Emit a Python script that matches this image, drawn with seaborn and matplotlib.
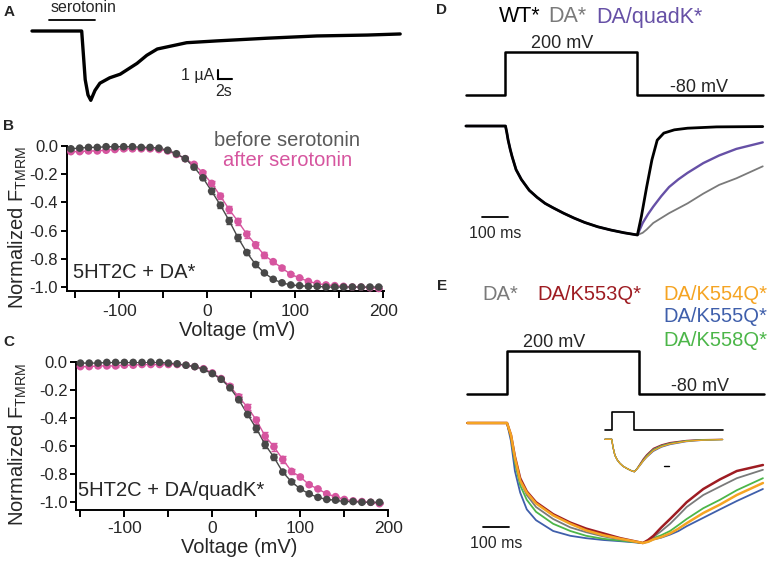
import matplotlib
matplotlib.use('Agg')
import matplotlib.pyplot as plt
import seaborn as sns

# ---------------- data ----------------
# A: serotonin-evoked current (time in s, current in uA)
a_time = [0, 7.1, 7.6, 8.0, 8.4, 9.0, 9.7, 11.1, 12.6, 13.6, 15.0, 16.4, 17.9,
          19.7, 22.1, 26.4, 33.6, 40.7, 47.9, 52.6]
a_current = [0, 0, -5.4, -7.1, -7.7, -6.6, -5.8, -5.2, -4.8, -4.3, -3.6, -2.7,
             -2.0, -1.7, -1.3, -1.1, -0.8, -0.55, -0.45, -0.33]
serotonin_on, serotonin_off = 2.4, 9.0

# B: 5HT2C + DA*  (normalized F_TMRM vs voltage)
b_volts = list(range(-155, 200, 10))
b_before = [-0.02, -0.015, -0.01, -0.01, -0.005, -0.005, -0.005, -0.005, -0.01, -0.01,
            -0.015, -0.03, -0.055, -0.09, -0.15, -0.225, -0.32, -0.42, -0.53, -0.65,
            -0.755, -0.84, -0.90, -0.945, -0.97, -0.985, -0.99, -0.995, -0.995, -1.0,
            -1.0, -1.0, -1.0, -1.0, -1.0, -1.0]
b_before_err = [0.005] * 12 + [0.008, 0.01, 0.012, 0.015, 0.02, 0.022, 0.025, 0.025,
                               0.02, 0.015, 0.01, 0.008] + [0.005] * 12
b_after = [-0.04, -0.04, -0.035, -0.035, -0.03, -0.025, -0.02, -0.02, -0.02, -0.02,
           -0.025, -0.035, -0.06, -0.09, -0.13, -0.19, -0.265, -0.355, -0.45, -0.535,
           -0.625, -0.70, -0.775, -0.82, -0.865, -0.91, -0.935, -0.96, -0.975, -0.985,
           -0.99, -0.995, -1.0, -1.0, -1.005, -1.01]
b_after_err = [0.005] * 12 + [0.008, 0.01, 0.012, 0.015, 0.018, 0.02, 0.022, 0.025,
                              0.025, 0.022, 0.02, 0.015] + [0.012, 0.01, 0.008] + [0.005] * 9

# C: 5HT2C + DA/quadK*
c_volts = list(range(-150, 200, 10))
c_before = [-0.01, -0.01, -0.01, -0.005, -0.005, -0.005, -0.005, -0.005, -0.003, -0.005,
            -0.01, -0.015, -0.025, -0.035, -0.055, -0.085, -0.125, -0.185, -0.27, -0.375,
            -0.475, -0.59, -0.68, -0.785, -0.855, -0.905, -0.94, -0.965, -0.98, -0.985,
            -0.995, -0.995, -1.0, -1.0, -1.0]
c_before_err = [0.005] * 13 + [0.006, 0.008, 0.01, 0.012, 0.015, 0.018, 0.02, 0.025,
                               0.025, 0.02, 0.015, 0.012, 0.01, 0.008, 0.006] + [0.005] * 7
c_after = [-0.035, -0.035, -0.03, -0.03, -0.03, -0.025, -0.025, -0.02, -0.02, -0.02,
           -0.02, -0.02, -0.025, -0.035, -0.05, -0.08, -0.12, -0.175, -0.25, -0.325,
           -0.415, -0.53, -0.605, -0.695, -0.78, -0.82, -0.875, -0.905, -0.94, -0.96,
           -0.98, -0.99, -0.995, -1.0, -1.01]
c_after_err = [0.005] * 13 + [0.006, 0.008, 0.01, 0.012, 0.015, 0.018, 0.022, 0.025,
                              0.028, 0.03, 0.025, 0.02, 0.015, 0.012, 0.01] + [0.005] * 7

# D / E voltage protocol (ms, mV)
prot_time = [-150, 0, 0, 500, 500, 975]
prot_volt = [-80, -80, 200, 200, -80, -80]

# D: fluorescence traces (ms, normalized F)
d_on_time = [-150, -100, -50, 0, 5, 10, 18, 25, 40, 60, 90, 120, 150, 180, 220, 260,
             300, 350, 400, 450, 500]
d_on_f = [0, 0, 0, 0, -0.06, -0.13, -0.215, -0.28, -0.40, -0.49, -0.59, -0.655, -0.71,
          -0.75, -0.80, -0.845, -0.885, -0.925, -0.955, -0.98, -1.0]
wt_off_time = [515, 535, 555, 575, 600, 640, 690, 800, 975]
wt_off_f = [-0.83, -0.56, -0.31, -0.13, -0.065, -0.035, -0.02, -0.008, -0.005]
quad_off_time = [520, 540, 560, 590, 620, 655, 690, 750, 810, 875, 975]
quad_off_f = [-0.89, -0.81, -0.74, -0.645, -0.56, -0.49, -0.43, -0.34, -0.27, -0.21, -0.15]
da_off_time = [520, 535, 560, 590, 620, 655, 690, 750, 810, 875, 975]
da_off_f = [-0.98, -0.95, -0.89, -0.845, -0.80, -0.755, -0.71, -0.62, -0.54, -0.48, -0.37]

# E: single-lysine mutants
e_on_time = [-150, -75, 0, 15, 30, 50, 75, 110, 175, 240, 300, 365, 430, 515]
e_off_time = [535, 555, 585, 618, 650, 681, 744, 807, 871, 970]
e_on_f = {
    'DA/K555Q*': [0, 0, 0, -0.15, -0.40, -0.58, -0.72, -0.81, -0.90, -0.94, -0.96, -0.975, -0.985, -1.0],
    'DA/K558Q*': [0, 0, 0, -0.12, -0.33, -0.52, -0.64, -0.74, -0.84, -0.90, -0.94, -0.965, -0.98, -1.0],
    'DA*':       [0, 0, 0, -0.11, -0.30, -0.48, -0.60, -0.70, -0.80, -0.87, -0.91, -0.945, -0.97, -1.0],
    'DA/K553Q*': [0, 0, 0, -0.10, -0.28, -0.46, -0.57, -0.66, -0.76, -0.83, -0.88, -0.92, -0.96, -1.0],
    'DA/K554Q*': [0, 0, 0, -0.10, -0.29, -0.48, -0.58, -0.67, -0.77, -0.84, -0.895, -0.935, -0.965, -1.0],
}
e_off_f = {
    'DA/K555Q*': [-0.99, -0.97, -0.955, -0.93, -0.90, -0.86, -0.79, -0.72, -0.65, -0.55],
    'DA/K558Q*': [-0.985, -0.96, -0.935, -0.90, -0.85, -0.80, -0.71, -0.64, -0.56, -0.46],
    'DA*':       [-0.98, -0.95, -0.90, -0.84, -0.77, -0.70, -0.60, -0.53, -0.46, -0.39],
    'DA/K553Q*': [-0.975, -0.94, -0.87, -0.80, -0.73, -0.66, -0.55, -0.47, -0.40, -0.35],
    'DA/K554Q*': [-0.99, -0.97, -0.95, -0.92, -0.88, -0.835, -0.75, -0.68, -0.60, -0.50],
}

# E inset: long recording (ms)
ins_prot_time = [-150, 0, 0, 500, 500, 2450]
ins_on_time = [-150, 0, 30, 70, 120, 180, 250, 330, 420, 500]
ins_on_f = [0, 0, -0.25, -0.49, -0.63, -0.74, -0.83, -0.895, -0.96, -1.0]
ins_off_time = [560, 630, 700, 770, 920, 1100, 1290, 1650, 2000, 2450]
ins_off_f = {
    'DA/K555Q*': [-0.92, -0.80, -0.67, -0.56, -0.37, -0.24, -0.16, -0.07, -0.03, -0.01],
    'DA/K558Q*': [-0.91, -0.78, -0.65, -0.53, -0.33, -0.21, -0.135, -0.05, -0.02, -0.005],
    'DA*':       [-0.91, -0.77, -0.63, -0.51, -0.31, -0.19, -0.12, -0.045, -0.015, -0.005],
    'DA/K554Q*': [-0.92, -0.79, -0.66, -0.55, -0.35, -0.225, -0.145, -0.06, -0.025, -0.01],
    'DA/K553Q*': [-0.90, -0.75, -0.60, -0.48, -0.28, -0.17, -0.10, -0.035, -0.01, 0.0],
}

GRAY = '#484848'
PINK = '#d6559f'
e_colors = {'DA*': '#7a7a7a', 'DA/K553Q*': '#9e1c22', 'DA/K554Q*': '#f5a423',
            'DA/K555Q*': '#3f5fab', 'DA/K558Q*': '#4cb649'}

# ---------------- style ----------------
sns.set_style('ticks')
plt.rcParams['font.family'] = ['Liberation Sans', 'DejaVu Sans']
plt.rcParams['axes.unicode_minus'] = False
plt.rcParams['mathtext.fontset'] = 'custom'
plt.rcParams['mathtext.rm'] = 'Liberation Sans'

W, H = 773, 565
fig = plt.figure(figsize=(W / 100, H / 100), dpi=100)


def box(x0, y0, x1, y1):
    # pixel box (top-left origin) -> figure fraction
    return [x0 / W, 1 - y1 / H, (x1 - x0) / W, (y1 - y0) / H]


def ftext(x, y, s, **kw):
    kw.setdefault('va', 'center')
    fig.text(x / W, 1 - y / H, s, **kw)


def trace(ax, t, y, color, lw):
    sns.lineplot(x=t, y=y, ax=ax, color=color, lw=lw, estimator=None,
                 sort=False, legend=False)


def blank_axes(rect, xlim, ylim):
    ax = fig.add_axes(rect)
    ax.set_xlim(*xlim)
    ax.set_ylim(*ylim)
    ax.axis('off')
    return ax


# panel letters
for letter, (x, y) in {'A': (9, 12), 'B': (9, 126), 'C': (9, 342),
                       'D': (442, 10), 'E': (442, 286)}.items():
    ftext(x, y, letter, ha='center', fontsize=11, fontweight='bold')

# ---------------- A ----------------
ax_a = blank_axes(box(28, 5, 405, 106), (-0.571, 53.29), (-8.333, 2.889))
trace(ax_a, a_time, a_current, 'black', 2.4)
ax_a.plot([serotonin_on, serotonin_off], [1.2, 1.2], color='black', lw=1.3)
ax_a.text((serotonin_on + serotonin_off) / 2 + 1.6, 2.6, 'serotonin', ha='center',
          va='center', fontsize=11.5)
sb_t, sb_i = 26.6, -5.33
ax_a.plot([sb_t, sb_t, sb_t + 2], [sb_i + 1, sb_i, sb_i], color='black', lw=1.5,
          solid_joinstyle='miter')
ax_a.text(sb_t - 0.6, -4.9, '1 µA', ha='right', va='center', fontsize=11.5)
ax_a.text(sb_t + 0.8, -6.7, '2s', ha='center', va='center', fontsize=11.5)


# ---------------- B / C ----------------
def fret_panel(rect, xlim, ylim, volts, before, before_err, after, after_err):
    ax = fig.add_axes(rect)
    ax.set_facecolor('none')
    for y, err, col in [(after, after_err, PINK), (before, before_err, GRAY)]:
        ax.errorbar(volts, y, yerr=err, fmt='none', ecolor=col, elinewidth=1,
                    capsize=2.5, capthick=1, clip_on=False)
        sns.lineplot(x=volts, y=y, ax=ax, color=col, lw=1, estimator=None)
        sns.scatterplot(x=volts, y=y, ax=ax, color=col, s=30, edgecolor='none',
                        clip_on=False, zorder=3)
    ax.set_xlim(*xlim)
    ax.set_ylim(*ylim)
    ax.set_xticks([-100, 0, 100, 200])
    ax.set_xticks([-150, -50, 50, 150], minor=True)
    ax.set_yticks([-1.0, -0.8, -0.6, -0.4, -0.2, 0.0])
    ax.set_yticklabels(['-1.0', '-0.8', '-0.6', '-0.4', '-0.2', '0.0'])
    sns.despine(ax=ax)
    for s in ('left', 'bottom'):
        ax.spines[s].set_linewidth(1.4)
        ax.spines[s].set_color('black')
    ax.tick_params(axis='x', which='both', length=5, width=1.4, labelsize=12.5,
                   pad=4, color='black')
    ax.tick_params(axis='y', length=4, width=1.4, labelsize=12, pad=2,
                   color='black')
    ax.set_xlabel('Voltage (mV)', fontsize=14.5)
    ax.set_ylabel('Normalized F$_{\\rm TMRM}$', fontsize=14.5)
    return ax


ax_b = fret_panel(box(66.5, 146, 384, 291), (-160, 201), (-1.028, 0.0),
                  b_volts, b_before, b_before_err, b_after, b_after_err)
ax_b.xaxis.set_label_coords(0.537, -0.205)
ax_b.yaxis.set_label_coords(-0.118, 0.435)
ftext(73, 273, '5HT2C + DA*', ha='left', fontsize=14.5)
ftext(287, 141, 'before serotonin', ha='center', fontsize=14.5, color='#5a5a5a')
ftext(288, 160, 'after serotonin', ha='center', fontsize=14.5, color=PINK)

ax_c = fret_panel(box(76, 361.7, 388.3, 510), (-155, 200), (-1.055, 0.0),
                  c_volts, c_before, c_before_err, c_after, c_after_err)
ax_c.tick_params(axis='x', which='both', pad=3)
ax_c.xaxis.set_label_coords(0.522, -0.19)
ax_c.yaxis.set_label_coords(-0.152, 0.44)
ftext(78, 490, '5HT2C + DA/quadK*', ha='left', fontsize=14.5)

# ---------------- D ----------------
ax_dp = blank_axes(box(460, 38, 770, 100), (-172.4, 1002.5), (-112.6, 291.2))
trace(ax_dp, prot_time, prot_volt, 'black', 1.8)
ax_dp.text(215, 258, '200 mV', ha='center', va='center', fontsize=13)
ax_dp.text(735, -28, '-80 mV', ha='center', va='center', fontsize=13)

ax_d = blank_axes(box(460, 110, 770, 245), (-172.4, 1002.5), (-1.092, 0.147))
trace(ax_d, d_on_time + da_off_time, d_on_f + da_off_f, '#7a7a7a', 1.3)
trace(ax_d, d_on_time + quad_off_time, d_on_f + quad_off_f, '#6650a6', 1.7)
trace(ax_d, d_on_time + wt_off_time, d_on_f + wt_off_f, 'black', 2.0)
ax_d.plot([-89, 11], [-0.835, -0.835], color='black', lw=1.3)
ax_d.text(-39, -0.99, '100 ms', ha='center', va='center', fontsize=11.5)

ftext(499, 17, 'WT*', ha='left', fontsize=15.5, color='black')
ftext(548, 17, 'DA*', ha='left', fontsize=15.5, color='#7a7a7a')
ftext(596, 17, 'DA/quadK*', ha='left', fontsize=15.5, color='#6650a6')

# ---------------- E ----------------
ax_ep = blank_axes(box(460, 340, 770, 400), (-178.1, 996.8), (-119.1, 271.6))
trace(ax_ep, prot_time, prot_volt, 'black', 1.8)
ax_ep.text(178, 258, '200 mV', ha='center', va='center', fontsize=13)
ax_ep.text(731, -32, '-80 mV', ha='center', va='center', fontsize=13)

ax_e = blank_axes(box(460, 405, 770, 555), (-178.1, 996.8), (-1.1, 0.15))
for name in ['DA/K555Q*', 'DA/K558Q*', 'DA*', 'DA/K553Q*', 'DA/K554Q*']:
    lw = 1.8 if name in ('DA/K553Q*', 'DA/K554Q*') else 1.3
    trace(ax_e, e_on_time + e_off_time, e_on_f[name] + e_off_f[name],
          e_colors[name], lw)
ax_e.plot([-91, 9], [-0.867, -0.867], color='black', lw=1.3)
ax_e.text(-42, -1.0, '100 ms', ha='center', va='center', fontsize=11.5)

# inset
ax_ip = blank_axes(box(598, 406, 730, 434), (-302.8, 2614), (-142.2, 293.4))
trace(ax_ip, ins_prot_time, prot_volt, 'black', 1.2)
ax_it = blank_axes(box(598, 434, 730, 478), (-302.8, 2614), (-1.194, 0.164))
for name in ['DA/K553Q*', 'DA*', 'DA/K555Q*', 'DA/K558Q*', 'DA/K554Q*']:
    trace(ax_it, ins_on_time + ins_off_time, ins_on_f + ins_off_f[name],
          e_colors[name], 0.9)
ax_it.plot([1156, 1256], [-0.815, -0.815], color='black', lw=1)

ftext(482, 294, 'DA*', ha='left', fontsize=14.5, color=e_colors['DA*'])
ftext(537, 294, 'DA/K553Q*', ha='left', fontsize=14.5, color=e_colors['DA/K553Q*'])
ftext(767, 294, 'DA/K554Q*', ha='right', fontsize=14.5, color=e_colors['DA/K554Q*'])
ftext(767, 316, 'DA/K555Q*', ha='right', fontsize=14.5, color=e_colors['DA/K555Q*'])
ftext(767, 340, 'DA/K558Q*', ha='right', fontsize=14.5, color=e_colors['DA/K558Q*'])

fig.savefig('out.png', dpi=100, facecolor='white')
